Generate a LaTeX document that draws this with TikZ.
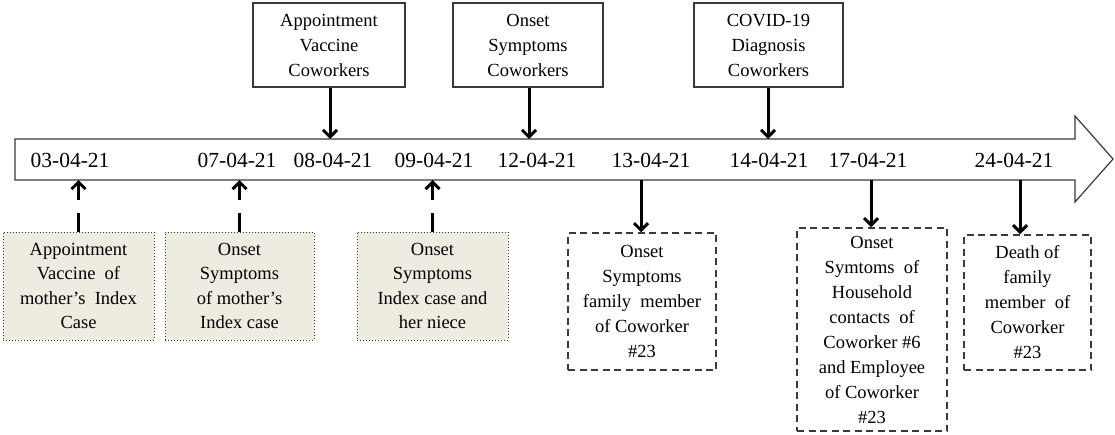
\documentclass[tikz,border=0pt]{standalone}
\usepackage{fontspec}
\setmainfont{Liberation Serif}
\usetikzlibrary{arrows.meta}
\definecolor{boxfill}{HTML}{EEEBE0}
\definecolor{edge}{HTML}{3A3A3A}
\tikzset{
  topbox/.style={draw=edge, line width=1.1pt, fill=white, align=center, inner sep=0pt,
    font=\fontsize{18.5}{25}\selectfont},
  shadebox/.style={draw=edge, line width=1pt, dotted, fill=boxfill, align=center, inner sep=0pt,
    font=\fontsize{18.5}{24.5}\selectfont},
  dashbox/.style={draw=edge, line width=1.5pt, dash pattern=on 7pt off 4.5pt, fill=white, align=center, inner sep=0pt,
    font=\fontsize{18.5}{25}\selectfont},
  datelbl/.style={font=\fontsize{21.5}{25}\selectfont, inner sep=0pt},
  solidarrow/.style={line width=3pt, -{Straight Barb[length=7pt,width=14pt]}},
  dasharrow/.style={line width=3pt, dash pattern=on 19pt off 13pt, -{Straight Barb[length=7pt,width=14pt]}},
}
\begin{document}
\begin{tikzpicture}[x=1pt,y=-1pt]
\useasboundingbox (0,0) rectangle (1115,434);
% timeline arrow
\draw[edge, line width=1.2pt, fill=white] (15,139) -- (1075,139) -- (1075,116) -- (1113,159) -- (1075,202) -- (1075,180) -- (15,180) -- cycle;
% bar anchor coordinates
\coordinate (top08) at (330,139);
\coordinate (top12) at (529,139);
\coordinate (top14) at (768,139);
\coordinate (bot03) at (78.5,180);
\coordinate (bot07) at (239.5,180);
\coordinate (bot09) at (432.5,180);
\coordinate (bot13) at (641,180);
\coordinate (bot17) at (871,180);
\coordinate (bot24) at (1020,180);
% dates
\node[datelbl] (d03) at (70,160) {03-04-21};
\node[datelbl] (d07) at (237,160) {07-04-21};
\node[datelbl] (d08) at (333,160) {08-04-21};
\node[datelbl] (d09) at (434,160) {09-04-21};
\node[datelbl] (d12) at (537,160) {12-04-21};
\node[datelbl] (d13) at (651,160) {13-04-21};
\node[datelbl] (d14) at (769,160) {14-04-21};
\node[datelbl] (d17) at (868,160) {17-04-21};
\node[datelbl] (d24) at (1014,160) {24-04-21};
% top boxes
\node[topbox, minimum width=152pt, minimum height=84pt] (t1) at (329,45) {Appointment\\Vaccine\\Coworkers};
\node[topbox, minimum width=150pt, minimum height=84pt] (t2) at (528,45) {Onset\\Symptoms\\Coworkers};
\node[topbox, minimum width=149pt, minimum height=84pt] (t3) at (768.5,45) {COVID-19\\Diagnosis\\Coworkers};
\draw[solidarrow] (t1.south -| top08) -- (top08);
\draw[solidarrow] (t2.south -| top12) -- (top12);
\draw[solidarrow] (t3.south -| top14) -- (top14);
% bottom shaded boxes
\node[shadebox, minimum width=151pt, minimum height=108pt] (b1) at (78.5,286) {Appointment\\Vaccine\ \ of\\mother’s\ \ Index\\Case};
\node[shadebox, minimum width=149pt, minimum height=108pt] (b2) at (239.5,286) {Onset\\Symptoms\\of mother’s\\Index case};
\node[shadebox, minimum width=151pt, minimum height=108pt] (b3) at (432.5,286) {Onset\\Symptoms\\Index case and\\her niece};
\draw[dasharrow] (b1.north) -- (bot03);
\draw[dasharrow] (b2.north) -- (bot07);
\draw[dasharrow] (b3.north) -- (bot09);
% bottom dashed boxes
\node[dashbox, minimum width=148pt, minimum height=137pt] (b4) at (642,301.5) {Onset\\Symptoms\\family\ \ member\\of Coworker\\\#23};
\node[dashbox, minimum width=150pt, minimum height=203pt] (b5) at (872,329.5) {Onset\\Symtoms\ \ of\\Household\\contacts\ \ of\\Coworker \#6\\and Employee\\of Coworker\\\#23};
\node[dashbox, minimum width=127pt, minimum height=135pt] (b6) at (1027.5,302.5) {Death of\\family\\member\ \ of\\Coworker\\\#23};
\draw[solidarrow] (bot13) -- (bot13 |- b4.north);
\draw[solidarrow] (bot17) -- (bot17 |- b5.north);
\draw[solidarrow] (bot24) -- (bot24 |- b6.north);
\end{tikzpicture}
\end{document}
